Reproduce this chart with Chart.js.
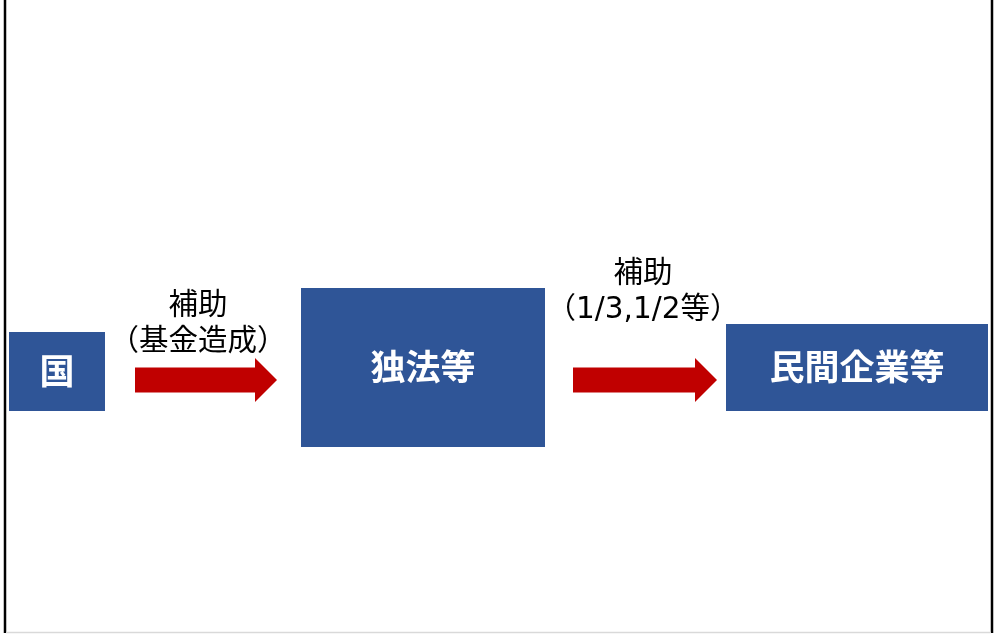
<!DOCTYPE html>
<html><head><meta charset="utf-8">
<script src="https://cdn.jsdelivr.net/npm/chart.js@4"></script>
<style>html,body{margin:0;padding:0;background:#fff;}#wrap{width:998px;height:634px;}</style>
</head><body><div id="wrap"><canvas id="c" width="998" height="634"></canvas></div>
<script>
// Diagram data (diagram units 0..998 x 0..634)
const boxLabels = ['国', '独法等', '民間企業等'];
const boxX0 = [9, 301, 726];
const boxX1 = [105, 545, 988];
const boxY0 = [332, 288, 324];
const boxY1 = [411, 447, 411];
const arrowX0 = [135, 573];
const arrowTip = [277, 717];
const arrowY = [380, 380];
const arrowLabel1 = ['補助', '補助'];
const arrowLabel2 = ['（基金造成）', '（1/3,1/2等）'];
const labelX = [198, 643];
const labelY1 = [306, 274];
const labelY2 = [342, 310];

const BLUE = '#2F5597', RED = '#C00000';
const FONT = '"Noto Sans CJK JP","Noto Sans",sans-serif';
const LFONT = '"DejaVu Sans","Noto Sans CJK JP",sans-serif';

const diagram = {
  id: 'diagram',
  afterDraw(chart) {
    const ctx = chart.ctx, sx = chart.scales.x, sy = chart.scales.y;
    const X = v => sx.getPixelForValue(v), Y = v => sy.getPixelForValue(v);
    ctx.save();
    // frame
    ctx.strokeStyle = '#000'; ctx.lineWidth = 2.5;
    ctx.beginPath(); ctx.moveTo(X(5), Y(0)); ctx.lineTo(X(5), Y(633)); ctx.stroke();
    ctx.beginPath(); ctx.moveTo(X(992), Y(0)); ctx.lineTo(X(992), Y(633)); ctx.stroke();
    ctx.strokeStyle = '#d9d9d9'; ctx.lineWidth = 1.5;
    ctx.beginPath(); ctx.moveTo(X(6), Y(632.5)); ctx.lineTo(X(991), Y(632.5)); ctx.stroke();
    // boxes
    boxLabels.forEach((t, i) => {
      ctx.fillStyle = BLUE;
      ctx.fillRect(X(boxX0[i]), Y(boxY0[i]), X(boxX1[i]) - X(boxX0[i]), Y(boxY1[i]) - Y(boxY0[i]));
      ctx.fillStyle = '#fff';
      ctx.font = 'bold 35px ' + FONT;
      ctx.textAlign = 'center'; ctx.textBaseline = 'middle';
      ctx.fillText(t, X((boxX0[i] + boxX1[i]) / 2), Y((boxY0[i] + boxY1[i]) / 2) - 1);
    });
    // arrows
    arrowX0.forEach((x0, i) => {
      const tip = arrowTip[i], cy = arrowY[i];
      const headLen = 22, bodyH = 12.5, headH = 22;
      ctx.fillStyle = RED;
      ctx.beginPath();
      ctx.moveTo(X(x0), Y(cy - bodyH));
      ctx.lineTo(X(tip - headLen), Y(cy - bodyH));
      ctx.lineTo(X(tip - headLen), Y(cy - headH));
      ctx.lineTo(X(tip), Y(cy));
      ctx.lineTo(X(tip - headLen), Y(cy + headH));
      ctx.lineTo(X(tip - headLen), Y(cy + bodyH));
      ctx.lineTo(X(x0), Y(cy + bodyH));
      ctx.closePath(); ctx.fill();
      ctx.fillStyle = '#000';
      ctx.font = '29.5px ' + LFONT;
      ctx.textAlign = 'center'; ctx.textBaseline = 'middle';
      ctx.fillText(arrowLabel1[i], X(labelX[i]), Y(labelY1[i]));
      ctx.fillText(arrowLabel2[i], X(labelX[i]), Y(labelY2[i]));
    });
    ctx.restore();
  }
};

new Chart(document.getElementById('c'), {
  type: 'scatter',
  data: { datasets: [{ data: [], pointRadius: 0 }] },
  options: {
    responsive: false, animation: false,
    layout: { padding: 0 },
    plugins: { legend: { display: false }, tooltip: { enabled: false } },
    scales: {
      x: { type: 'linear', min: 0, max: 998, display: false },
      y: { type: 'linear', min: 0, max: 634, reverse: true, display: false }
    }
  },
  plugins: [diagram]
});
</script></body></html>
